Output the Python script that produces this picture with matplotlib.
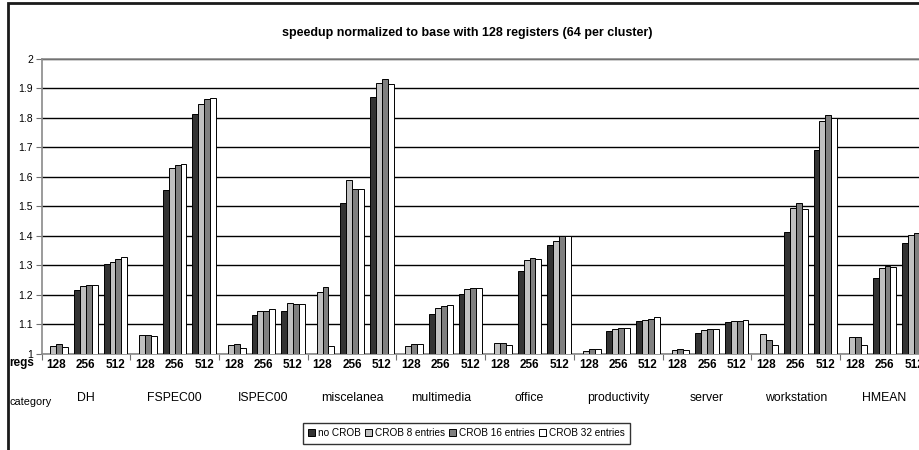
import matplotlib
matplotlib.use("Agg")
import matplotlib.pyplot as plt
from matplotlib import font_manager
from matplotlib.patches import Rectangle
from matplotlib.transforms import blended_transform_factory
import numpy as np

categories = ["DH", "FSPEC00", "ISPEC00", "miscelanea", "multimedia",
              "office", "productivity", "server", "workstation", "HMEAN"]
regs = ["128", "256", "512"]
series_names = ["no CROB", "CROB 8 entries", "CROB 16 entries", "CROB 32 entries"]

no_crob = [1.000, 1.217, 1.303,
           1.000, 1.557, 1.814,
           1.000, 1.133, 1.145,
           1.000, 1.510, 1.872,
           1.000, 1.135, 1.201,
           1.000, 1.282, 1.368,
           1.000, 1.076, 1.111,
           1.000, 1.071, 1.106,
           1.000, 1.412, 1.692,
           1.000, 1.258, 1.376]
crob_8 = [1.027, 1.229, 1.312,
          1.063, 1.629, 1.846,
          1.028, 1.146, 1.173,
          1.208, 1.588, 1.917,
          1.027, 1.154, 1.219,
          1.035, 1.317, 1.383,
          1.010, 1.083, 1.114,
          1.011, 1.079, 1.111,
          1.067, 1.493, 1.791,
          1.055, 1.292, 1.403]
crob_16 = [1.032, 1.233, 1.320,
           1.063, 1.640, 1.865,
           1.032, 1.146, 1.170,
           1.225, 1.560, 1.932,
           1.032, 1.163, 1.222,
           1.035, 1.324, 1.399,
           1.015, 1.086, 1.118,
           1.016, 1.083, 1.111,
           1.048, 1.510, 1.810,
           1.055, 1.297, 1.411]
crob_32 = [1.023, 1.233, 1.328,
           1.059, 1.644, 1.869,
           1.019, 1.150, 1.170,
           1.027, 1.560, 1.914,
           1.032, 1.166, 1.222,
           1.028, 1.320, 1.399,
           1.015, 1.086, 1.123,
           1.011, 1.083, 1.114,
           1.028, 1.490, 1.800,
           1.028, 1.295, 1.412]

series = [no_crob, crob_8, crob_16, crob_32]
colors = ["#333333", "#c0c0c0", "#808080", "#ffffff"]

available = {f.name for f in font_manager.fontManager.ttflist}
base_font = "Liberation Sans"
narrow_font = "Liberation Sans Narrow" if "Liberation Sans Narrow" in available else base_font
plt.rcParams["font.family"] = base_font

W, H = 919, 450
fig = plt.figure(figsize=(W / 100, H / 100), dpi=100)


def fx(px):
    return px / W


def fy(py):
    return 1 - py / H


# outer chart frame (runs off the right and bottom edges)
fig.patches.append(Rectangle((fx(8), -0.05), 1.2, fy(3.3) + 0.05,
                             transform=fig.transFigure, fill=False,
                             lw=2.0, ec="#1a1a1a"))

ax_left, ax_top, ax_bottom = 41.5, 59.0, 353.7
slot_px = 29.58
n_slots = len(categories) * len(regs)
ax = fig.add_axes([fx(ax_left), fy(ax_bottom), n_slots * slot_px / W,
                   (ax_bottom - ax_top) / H])

x = np.arange(n_slots) + 0.5
bw = 0.2
for i, (vals, col, name) in enumerate(zip(series, colors, series_names)):
    ax.bar(x + (i - 1.5) * bw, vals, width=bw, color=col,
           edgecolor="black", linewidth=0.7, label=name, zorder=3)

ax.set_xlim(0, n_slots)
ax.set_ylim(1, 2)
ax.set_yticks(np.round(np.arange(1.0, 2.01, 0.1), 1))
ax.set_yticklabels(["1", "1.1", "1.2", "1.3", "1.4", "1.5", "1.6", "1.7",
                    "1.8", "1.9", "2"], fontsize=7.5)
ax.yaxis.grid(True, color="black", linewidth=1.0, zorder=1)
ax.tick_params(axis="y", length=4, width=0.8, color="#707070", pad=2)

# category separators along the bottom axis
ax.set_xticks(np.arange(0, n_slots + 1, len(regs)))
ax.set_xticklabels([])
ax.tick_params(axis="x", length=4, width=0.8, color="#707070")

for side in ["left", "bottom", "top"]:
    ax.spines[side].set_color("#8a8a8a")
    ax.spines[side].set_linewidth(1.2)
ax.spines["right"].set_visible(False)

trans = blended_transform_factory(ax.transData, fig.transFigure)
for k in range(n_slots):
    ax.text(x[k], fy(368), regs[k % len(regs)], transform=trans,
            ha="center", va="baseline", fontsize=8.5, fontweight="bold",
            family=narrow_font)
for c, name in enumerate(categories):
    ax.text(c * len(regs) + len(regs) / 2, fy(401), name, transform=trans,
            ha="center", va="baseline", fontsize=8.8, family=narrow_font)

fig.text(fx(9), fy(366), "regs", ha="left", va="baseline", fontsize=8.5,
         fontweight="bold", family=narrow_font)
fig.text(fx(10), fy(405), "category", ha="left", va="baseline", fontsize=7.8,
         family=narrow_font)

fig.text(fx(467), fy(35.7), "speedup normalized to base with 128 registers (64 per cluster)",
         ha="center", va="baseline", fontsize=9, fontweight="bold",
         family=narrow_font)

leg = fig.legend(loc="center", bbox_to_anchor=(fx(466.5), fy(433)), ncol=4,
                 frameon=True, fancybox=False, edgecolor="black",
                 handlelength=0.7, handleheight=0.7, handletextpad=0.3,
                 columnspacing=0.4, borderpad=0.55, borderaxespad=0,
                 prop={"family": narrow_font, "size": 7.2})
leg.get_frame().set_linewidth(1.0)

fig.savefig("out.png", dpi=100)
